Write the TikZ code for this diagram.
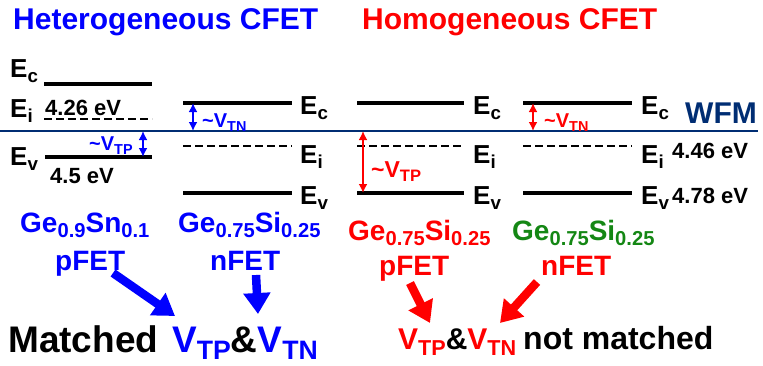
\documentclass[tikz,border=0pt]{standalone}
\usepackage{fontspec}
\setmainfont{Liberation Sans}
\usetikzlibrary{arrows.meta}
\definecolor{navy}{RGB}{0,45,115}
\definecolor{myblue}{RGB}{0,0,255}
\definecolor{myred}{RGB}{255,0,0}
\definecolor{mygreen}{RGB}{20,135,20}
\newcommand\fsz[1]{\fontsize{#1}{#1}\selectfont}
\newcommand\lsub[1]{\raisebox{-0.2em}{\scalebox{0.72}{#1}}}
\begin{document}
\begin{tikzpicture}[x=1pt,y=-1pt,
 txt/.style={inner sep=0pt,anchor=base west},
 elab/.style={txt,font=\bfseries\fsz{26}},
 evlab/.style={txt,font=\bfseries\fsz{22}},
 lvl/.style={line width=3.3pt},
 lvld/.style={line width=2.7pt,dash pattern=on 8pt off 4pt},
 gap/.style={line width=1.8pt,{Latex[length=9pt,width=9pt]}-{Latex[length=9pt,width=9pt]}},
 big/.style={line width=8.5pt,-{Triangle[length=21pt,width=26pt]}},
 mat/.style={txt,font=\bfseries\fsz{28}},
]
\useasboundingbox (0,0) rectangle (763,365);

% titles
\node[txt,font=\bfseries\fsz{30},text=myblue] (t1) at (13,29) {Heterogeneous CFET};
\node[txt,font=\bfseries\fsz{30},text=myred] (t2) at (362,29) {Homogeneous CFET};

% WFM
\draw[navy,line width=2.3pt] (0,131) -- (758,131);
\node[txt,font=\bfseries\fsz{30},text=navy] (wfm) at (685,123) {WFM};

% column 1 levels
\draw[lvl] (44,84) -- (152,84);
\draw[lvld] (44,119) -- (152,119);
\draw[lvl] (45,157) -- (152,157);
\node[elab] (ec1) at (10,77) {E\lsub{c}};
\node[elab] (ei1) at (10,117) {E\lsub{i}};
\node[elab] (ev1) at (10,165) {E\lsub{v}};
\node[evlab] (v426) at (45,115) {4.26 eV};
\node[evlab] (v45) at (50,183) {4.5 eV};
\coordinate (g1t) at (143,131); \coordinate (g1b) at (143,157);
\draw[gap,myblue] (g1t) -- (g1b);
\node[txt,font=\bfseries\fsz{20},text=myblue] (vtp1) at (89,150) {\textasciitilde V\lsub{TP}};

% column 2 levels
\draw[lvl] (183,103) -- (292,103);
\draw[lvld] (183,146) -- (292,146);
\draw[lvl] (183,193) -- (292,193);
\node[elab] (ec2) at (300,114) {E\lsub{c}};
\node[elab] (ei2) at (300,163) {E\lsub{i}};
\node[elab] (ev2) at (300,204) {E\lsub{v}};
\coordinate (g2t) at (193,103); \coordinate (g2b) at (193,131);
\draw[gap,myblue] (g2t) -- (g2b);
\node[txt,font=\bfseries\fsz{20},text=myblue] (vtn2) at (202,127) {\textasciitilde V\lsub{TN}};

% column 3 levels
\draw[lvl] (357,103) -- (464,103);
\draw[lvld] (357,146) -- (464,146);
\draw[lvl] (357,193) -- (464,193);
\node[elab] (ec3) at (473,114) {E\lsub{c}};
\node[elab] (ei3) at (473,163) {E\lsub{i}};
\node[elab] (ev3) at (473,204) {E\lsub{v}};
\coordinate (g3t) at (363,131); \coordinate (g3b) at (363,193);
\draw[gap,myred] (g3t) -- (g3b);
\node[txt,font=\bfseries\fsz{23},text=myred] (vtp3) at (371,177) {\textasciitilde V\lsub{TP}};

% column 4 levels
\draw[lvl] (523,103) -- (632,103);
\draw[lvld] (523,146) -- (632,146);
\draw[lvl] (523,193) -- (632,193);
\node[elab] (ec4) at (641,114) {E\lsub{c}};
\node[elab] (ei4) at (641,163) {E\lsub{i}};
\node[elab] (ev4) at (641,204) {E\lsub{v}};
\node[evlab] (v446) at (672,158) {4.46 eV};
\node[evlab] (v478) at (672,203) {4.78 eV};
\coordinate (g4t) at (533,103); \coordinate (g4b) at (533,131);
\draw[gap,myred] (g4t) -- (g4b);
\node[txt,font=\bfseries\fsz{20},text=myred] (vtn4) at (544,127) {\textasciitilde V\lsub{TN}};

% material labels
\node[mat,text=myblue] (m1) at (20,232) {Ge\lsub{0.9}Sn\lsub{0.1}};
\node[mat,text=myblue] (p1) at (55,270) {pFET};
\node[mat,text=myblue] (m2) at (178,232) {Ge\lsub{0.75}Si\lsub{0.25}};
\node[mat,text=myblue] (n2) at (210,270) {nFET};
\node[mat,text=myred] (m3) at (348,240) {Ge\lsub{0.75}Si\lsub{0.25}};
\node[mat,text=myred] (p3) at (379,275) {pFET};
\node[mat,text=mygreen] (m4) at (512,240) {Ge\lsub{0.75}Si\lsub{0.25}};
\node[mat,text=myred] (n4) at (541,275) {nFET};

% bottom statements
\node[txt,font=\bfseries\fsz{37}] (matched) at (8,352) {Matched};
\node[txt,font=\bfseries\fsz{37}] (vv1) at (172,352) {\textcolor{myblue}{V\lsub{TP}}\&\textcolor{myblue}{V\lsub{TN}}};
\node[txt,font=\bfseries\fsz{30}] (vv2) at (398,349) {\textcolor{myred}{V\lsub{TP}}\&\textcolor{myred}{V\lsub{TN}}};
\node[txt,font=\bfseries\fsz{32}] (notm) at (523,349) {not matched};

% big arrows
\coordinate (b1s) at (113,273); \coordinate (b1e) at (175,316);
\coordinate (b2s) at (256,275); \coordinate (b2e) at (258,314);
\coordinate (r1s) at (410,283); \coordinate (r1e) at (430,323);
\coordinate (r2s) at (537,282); \coordinate (r2e) at (500,323);
\draw[big,myblue] (b1s) -- (b1e);
\draw[big,myblue] (b2s) -- (b2e);
\draw[big,myred] (r1s) -- (r1e);
\draw[big,myred] (r2s) -- (r2e);
\end{tikzpicture}
\end{document}
